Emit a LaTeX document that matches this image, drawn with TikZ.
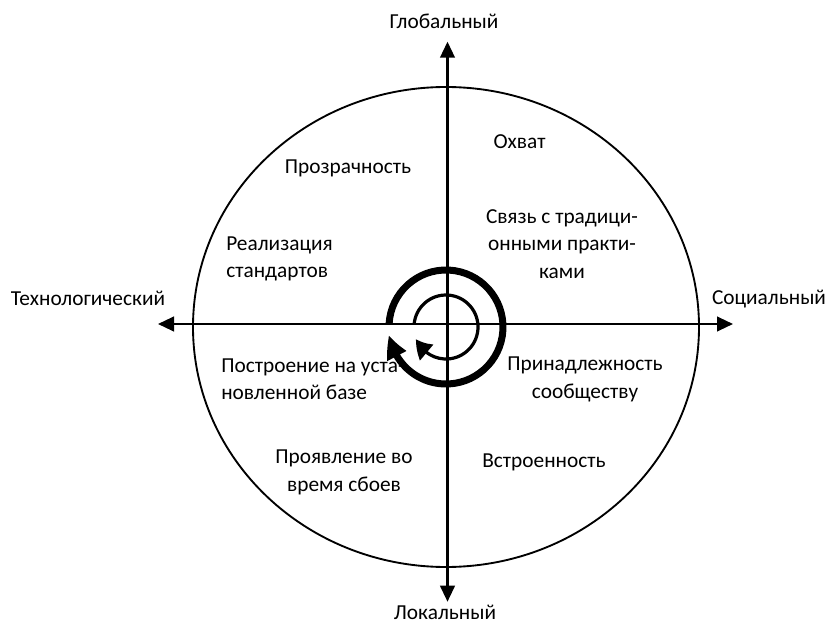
\documentclass[tikz,border=0pt]{standalone}
\usepackage{fontspec}
\setmainfont{Carlito}
\usetikzlibrary{arrows.meta,bending,calc}
\begin{document}
\begin{tikzpicture}[x=0.75pt,y=-0.75pt,
  lbl/.style={inner sep=0pt,font=\fontsize{16}{20.6}\selectfont},
  axis/.style={line width=1.6pt,{Triangle[length=12pt,width=11pt]}-{Triangle[length=12pt,width=11pt]}},
  ring/.style={line width=1.4pt}]
\useasboundingbox (0,0) rectangle (829,624);
% outer ellipse
\draw[ring] (446,327) ellipse[x radius=253, y radius=240];
% axes
\coordinate (L) at (158,324);
\coordinate (R) at (733,324);
\coordinate (T) at (447.5,41.7);
\coordinate (B) at (447.5,601.7);
\draw[axis] (L) -- (R);
\draw[axis] (T) -- (B);
% spiral arcs
\draw[line width=5.25pt,-{Triangle[length=17pt,width=15pt,bend]}] ($(446,327)+(183:57)$) arc[start angle=183,end angle=532,radius=57];
\draw[line width=2.4pt,-{Triangle[length=13pt,width=15pt,bend]}] ($(446,327)+(184:32)$) arc[start angle=184,end angle=518,radius=32];
% axis labels
\node[lbl] (glob) at (444,21) {Глобальный};
\node[lbl] (lok) at (445,612) {Локальный};
\node[lbl] (tech) at (88,298) {Технологический};
\node[lbl] (soc) at (769,299) {Социальный};
% quadrant labels
\node[lbl] (ohv) at (519.5,142) {Охват};
\node[lbl] (proz) at (348,168) {Прозрачность};
\node[lbl,align=left,anchor=west] (real) at (226,259) {Реализация\\стандартов};
\node[lbl,align=center] (svyaz) at (562,244) {Связь с традици-\\онными практи-\\ками};
\node[lbl,align=left,anchor=west] (postr) at (221,379.5) {Построение на уста-\\новленной базе};
\node[lbl,align=center] (proyav) at (344,472.5) {Проявление во\\время сбоев};
\node[lbl,align=center] (prin) at (585,379.5) {Принадлежность\\сообществу};
\node[lbl] (vstr) at (544,462) {Встроенность};
\end{tikzpicture}
\end{document}
